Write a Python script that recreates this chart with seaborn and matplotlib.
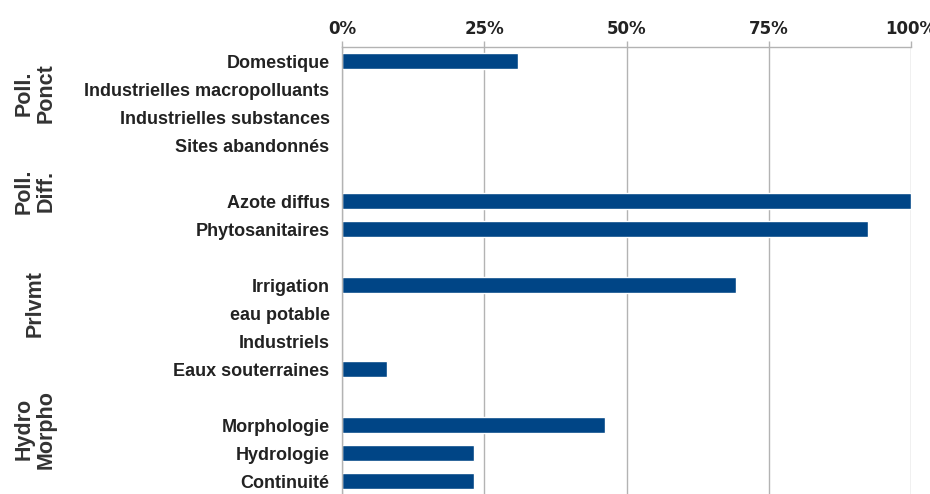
import numpy as np
import pandas as pd
import matplotlib.pyplot as plt
import seaborn as sns
from matplotlib.ticker import FixedLocator, PercentFormatter
from matplotlib.transforms import blended_transform_factory

# Data (percent)
group_names = ["Poll.\nPonct", "Poll.\nDiff.", "Prlvmt", "Hydro\nMorpho"]
poll_ponct = ["Domestique", "Industrielles macropolluants",
              "Industrielles substances", "Sites abandonnés"]
poll_ponct_vals = [31.0, 0, 0, 0]
poll_diff = ["Azote diffus", "Phytosanitaires"]
poll_diff_vals = [100.0, 92.4]
prelevement = ["Irrigation", "eau potable", "Industriels", "Eaux souterraines"]
prelevement_vals = [69.3, 0, 0, 7.9]
hydro_morpho = ["Morphologie", "Hydrologie", "Continuité"]
hydro_morpho_vals = [46.2, 23.2, 23.2]
x_ticks = [0, 25, 50, 75, 100]

sns.set_style("white")
plt.rcParams['font.family'] = ['Liberation Sans', 'DejaVu Sans']

# Build rows, with an empty spacer row between groups
groups = [(poll_ponct, poll_ponct_vals), (poll_diff, poll_diff_vals),
          (prelevement, prelevement_vals), (hydro_morpho, hydro_morpho_vals)]
order, labels, rows = [], [], []
spans = []
for gi, (cats, vals) in enumerate(groups):
    start = len(order)
    if gi > 0:
        spacer = " " * gi
        order.append(spacer)
        labels.append("")
    for c, v in zip(cats, vals):
        order.append(c)
        labels.append(c)
        rows.append({"cat": c, "val": v})
    spans.append((start, len(order) - 1))
df = pd.DataFrame(rows)

fig = plt.figure(figsize=(9.3, 4.94), dpi=100)
ax = fig.add_axes([342 / 930, -1 / 494, 569 / 930, 448 / 494])

sns.barplot(data=df, x="val", y="cat", order=order, orient="h",
            color="#004586", saturation=1, width=0.55, ax=ax)

ax.set_xlim(0, 100)
ax.set_ylim(len(order) - 0.5, -0.5)
ax.set_xlabel("")
ax.set_ylabel("")

# x axis on top with percent labels
ax.xaxis.tick_top()
ax.xaxis.set_major_locator(FixedLocator(x_ticks))
ax.xaxis.set_major_formatter(PercentFormatter(100, decimals=0))
ax.tick_params(axis="x", length=4.3, width=1, color="#b3b3b3", pad=2.5,
               labelsize=12, labelcolor="#222222")
for t in ax.get_xticklabels():
    t.set_fontfamily("DejaVu Sans")
    t.set_fontweight("bold")
ax.grid(axis="x", color="#b3b3b3", linewidth=1)
ax.set_axisbelow(True)

# category labels on the left
ax.set_yticks(range(len(order)))
ax.set_yticklabels(labels, fontsize=13, fontweight="bold", color="#222222")
ax.tick_params(axis="y", which="major", length=0, pad=9)
ax.set_yticks(np.arange(len(order) - 1) + 0.5, minor=True)
ax.tick_params(axis="y", which="minor", length=3, width=1, color="#b3b3b3")

for side in ["right", "bottom"]:
    ax.spines[side].set_visible(False)
for side in ["left", "top"]:
    ax.spines[side].set_color("#b3b3b3")
    ax.spines[side].set_linewidth(1)

# rotated group labels
trans = blended_transform_factory(fig.transFigure, ax.transData)
for name, (a, b) in zip(group_names, spans):
    ax.text(35 / 930, (a + b) / 2 - 0.35, name, transform=trans,
            rotation=90, ha="center", va="center", multialignment="center",
            fontsize=15.5, fontweight="bold", color="#333333",
            linespacing=1.05)

fig.savefig("out.png", dpi=100)
